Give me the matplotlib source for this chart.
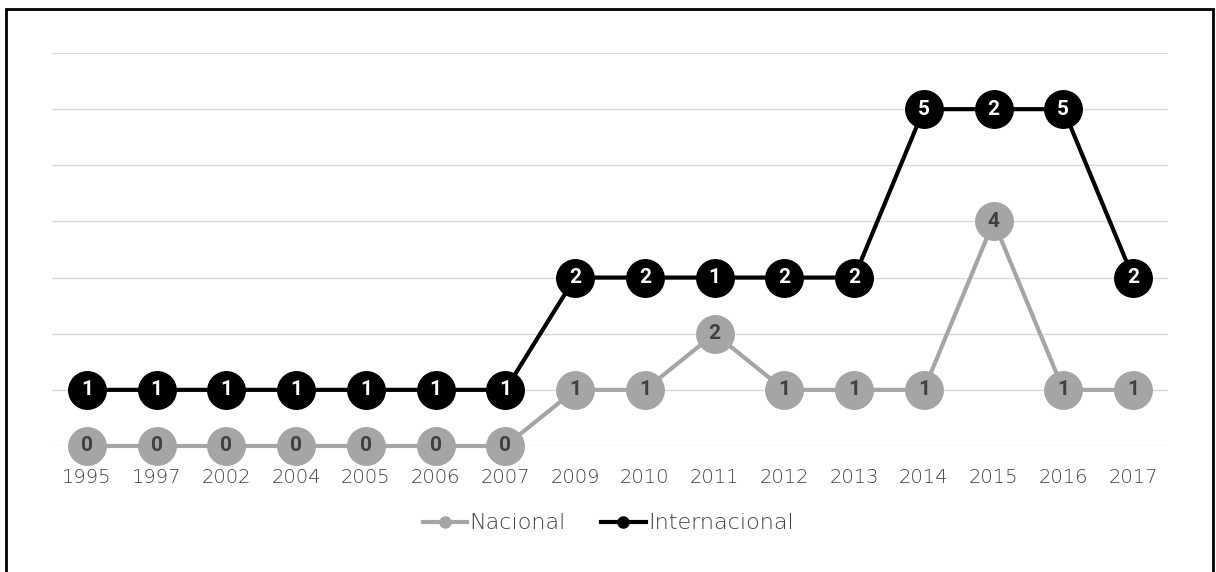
import matplotlib
matplotlib.use("Agg")
import matplotlib.pyplot as plt
import numpy as np
from matplotlib.patches import Rectangle

years = ["1995", "1997", "2002", "2004", "2005", "2006", "2007", "2009",
         "2010", "2011", "2012", "2013", "2014", "2015", "2016", "2017"]
nacional = [0, 0, 0, 0, 0, 0, 0, 1, 1, 2, 1, 1, 1, 4, 1, 1]
internacional = [1, 1, 1, 1, 1, 1, 1, 2, 2, 1, 2, 2, 5, 2, 5, 2]

GRAY = "#a5a5a5"
BLACK = "#000000"
TEXT = "#404040"

plt.rcParams["font.family"] = ["DejaVu Sans"]

fig = plt.figure(figsize=(12.16, 5.72), dpi=100)
ax = fig.add_axes([0.0428, 0.2203, 0.9177, 0.687])

x = np.arange(len(years))
nac = np.array(nacional)
stacked = nac + np.array(internacional)  # stacked line: internacional sits on top of nacional

ax.plot(x, nac, color=GRAY, lw=3, marker="o", ms=27, mfc=GRAY, mec=GRAY,
        zorder=3, label="Nacional", solid_capstyle="round")
ax.plot(x, stacked, color=BLACK, lw=3, marker="o", ms=27, mfc=BLACK, mec=BLACK,
        zorder=4, label="Internacional", solid_capstyle="round")

for xi, v in zip(x, nac):
    ax.text(xi, v, str(v), ha="center", va="center", fontsize=15,
            fontweight="bold", color="#404040", family="Roboto", zorder=5)
for xi, v, s in zip(x, internacional, stacked):
    ax.text(xi, s, str(v), ha="center", va="center", fontsize=15,
            fontweight="bold", color="white", family="Roboto", zorder=6)

ax.set_xlim(-0.5, len(years) - 0.5)
ax.set_ylim(0, 7)
ax.set_yticks(range(0, 8))
ax.yaxis.grid(True, color="#d9d9d9", lw=1)
ax.set_axisbelow(True)
ax.tick_params(axis="y", left=False, labelleft=False)
ax.tick_params(axis="x", bottom=False, labelsize=14, labelcolor=TEXT, pad=12)
ax.set_xticks(x)
ax.set_xticklabels(years, fontweight="light")
for side in ["top", "right", "left", "bottom"]:
    ax.spines[side].set_visible(False)
for ln in ax.lines:
    ln.set_clip_on(False)

handles = [
    plt.Line2D([], [], color=GRAY, lw=3, marker="o", ms=8),
    plt.Line2D([], [], color=BLACK, lw=3, marker="o", ms=8),
]
fig.legend(handles, ["Nacional", "Internacional"], loc="center",
           bbox_to_anchor=(0.5, 0.085), ncol=2, frameon=False,
           prop={"size": 16, "weight": "light"},
           labelcolor=TEXT, handlelength=2.0, handletextpad=0.1, columnspacing=1.6)

fig.add_artist(Rectangle((6 / 1216, -0.1), 1207 / 1216, 1.1 - 9 / 572,
                         transform=fig.transFigure, fill=False, lw=2,
                         edgecolor="black"))

fig.savefig("out.png", dpi=100, facecolor="white")
